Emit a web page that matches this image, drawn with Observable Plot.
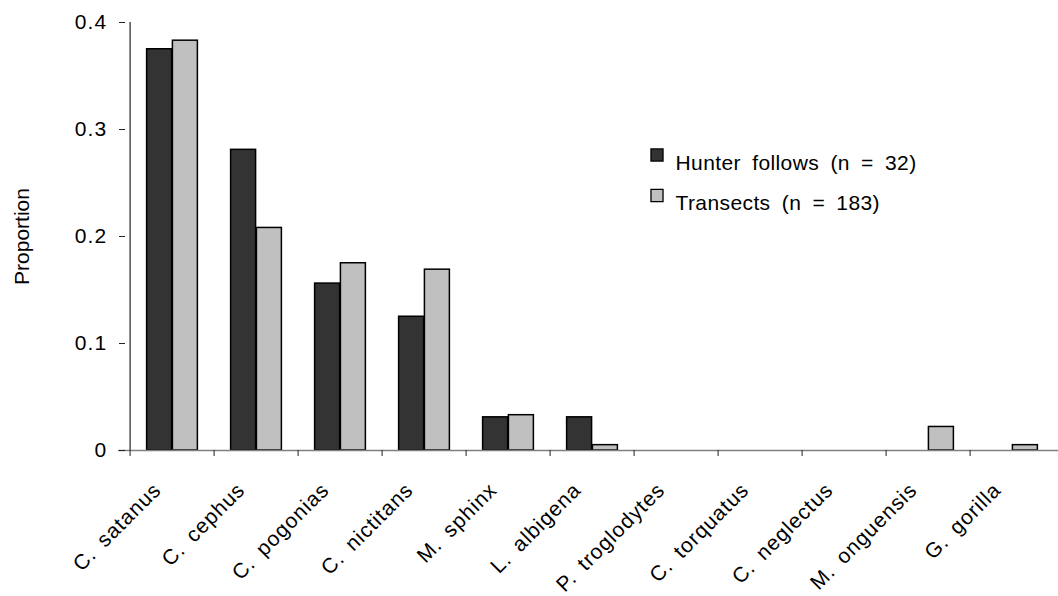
<!DOCTYPE html>
<html>
<head>
<meta charset="utf-8">
<script src="https://cdn.jsdelivr.net/npm/d3@7"></script>
<script src="https://cdn.jsdelivr.net/npm/@observablehq/plot@0.6"></script>
<style>
  html, body { margin: 0; padding: 0; background: #fff; }
  #chart { width: 1058px; height: 596px; }
  svg { font-family: "Liberation Sans", Arial, sans-serif; }
  .ylab text { letter-spacing: 1.2px; }
  .xlab text { letter-spacing: 1px; word-spacing: 4px; }
  .leg text { letter-spacing: 0.4px; word-spacing: 5px; }
</style>
</head>
<body>
<div id="chart"></div>
<script>
const species = ["C. satanus", "C. cephus", "C. pogonias", "C. nictitans", "M. sphinx", "L. albigena",
  "P. troglodytes", "C. torquatus", "C. neglectus", "M. onguensis", "G. gorilla"];
const hunterFollows = [0.375, 0.281, 0.156, 0.125, 0.031, 0.031, 0, 0, 0, 0, 0];
const transects = [0.383, 0.208, 0.175, 0.169, 0.033, 0.005, 0, 0, 0, 0.022, 0.005];
const seriesNames = ["Hunter follows (n = 32)", "Transects (n = 183)"];
const seriesColors = ["#333333", "#c0c0c0"];
const yTicks = [0, 0.1, 0.2, 0.3, 0.4];

const W = 1058, H = 596;
const mL = 125, mR = 0, mT = 22, mB = 146;
const bw = (W - mL - mR) / species.length;
const barW = 25.8;

const rows = [];
species.forEach((s, i) => {
  rows.push({species: s, series: 0, value: hunterFollows[i]});
  rows.push({species: s, series: 1, value: transects[i]});
});
const bars = rows.filter(d => d.value > 0);

const legendMarks = seriesNames.flatMap((name, k) => [
  Plot.dot([name], {frameAnchor: "top-left", dx: 656.5 - mL, dy: 154.5 - mT + k * 40.5,
    symbol: "square", r: 6.8, fill: seriesColors[k], stroke: "#000", strokeWidth: 1.3}),
  Plot.text([name], {frameAnchor: "top-left", dx: 675 - mL, dy: 154.5 - mT + k * 40.5,
    text: d => d, textAnchor: "start", fontSize: 21, fill: "#000", className: "leg"})
]);

const chart = Plot.plot({
  width: W, height: H,
  marginLeft: mL, marginRight: mR, marginTop: mT, marginBottom: mB,
  style: {fontFamily: "'Liberation Sans', Arial, sans-serif", background: "#fff"},
  x: {type: "band", domain: species, padding: 0, label: null},
  y: {domain: [0, 0.4], label: null},
  marks: [
    Plot.barY(bars.filter(d => d.series === 0), {x: "species", y: "value",
      fill: seriesColors[0], stroke: "#000", strokeWidth: 1.5,
      insetLeft: bw / 2 - barW, insetRight: bw / 2}),
    Plot.barY(bars.filter(d => d.series === 1), {x: "species", y: "value",
      fill: seriesColors[1], stroke: "#000", strokeWidth: 1.5,
      insetLeft: bw / 2, insetRight: bw / 2 - barW}),
    Plot.ruleY([0], {stroke: "#808080", strokeWidth: 1.3, insetLeft: -7}),
    Plot.ruleX([species[0]], {dx: -bw / 2, y1: 0, y2: 0.4, stroke: "#222", strokeWidth: 1.2}),
    Plot.axisX({tickSize: 6, tickFormat: () => "", dx: -bw / 2, stroke: "#222", label: null}),
    Plot.axisY({ticks: yTicks, tickSize: 6, tickPadding: 12, fontSize: 21, stroke: "#222",
      color: "#000", tickFormat: d => String(+d.toFixed(1)), label: null, className: "ylab"}),
    Plot.text(species, {x: d => d, frameAnchor: "bottom", dy: 36, dx: -15, rotate: -45,
      textAnchor: "end", lineAnchor: "middle", fontSize: 21, fill: "#000", className: "xlab"}),
    Plot.text(["Proportion"], {frameAnchor: "left", dx: 22 - mL, rotate: -90,
      textAnchor: "middle", lineAnchor: "middle", fontSize: 21, fill: "#000"}),
    ...legendMarks
  ]
});
document.getElementById("chart").appendChild(chart);
</script>
</body>
</html>
